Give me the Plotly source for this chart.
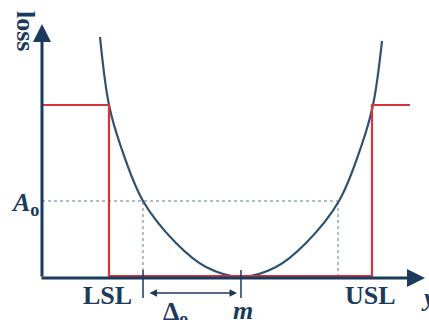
import plotly.graph_objects as go

# ---- data (x: position along the process-value axis, loss: loss value) ----
curve_x = [58, 67, 79, 101, 134, 164, 199, 234, 264, 297, 319, 331, 340]
curve_loss = [240, 172, 130, 76, 34, 10, 0, 10, 34, 76, 130, 172, 236]

step_x = [0, 67, 67, 330, 330, 368]
step_loss = [172, 172, 1, 1, 172, 172]

LSL = 67
USL = 330
m = 199
A0 = 76
tol_left = 101   # m - Δo
tol_right = 296  # m + Δo

NAVY = "#1b3a5c"
CURVE = "#2f5170"
RED = "#d8323c"
DOT = "#95a6b8"
FONT = "Liberation Serif"

fig = go.Figure()

# dotted guide lines
fig.add_trace(go.Scatter(x=[0, tol_right], y=[A0, A0], mode="lines",
                         line=dict(color=DOT, width=1.5, dash="dot"), hoverinfo="skip"))
for xv in [tol_left, tol_right]:
    fig.add_trace(go.Scatter(x=[xv, xv], y=[0, A0], mode="lines",
                             line=dict(color=DOT, width=1.5, dash="dot"), hoverinfo="skip"))

# loss curve
fig.add_trace(go.Scatter(x=curve_x, y=curve_loss, mode="lines", line_shape="spline",
                         line=dict(color=CURVE, width=2.2, smoothing=1.0), hoverinfo="skip"))

# axes as arrows
fig.add_annotation(x=0, y=253, ax=0, ay=-1, xref="x", yref="y", axref="x", ayref="y",
                   showarrow=True, arrowhead=2, arrowsize=1.2, arrowwidth=3, arrowcolor=NAVY, text="")
fig.add_annotation(x=383, y=-1, ax=-2, ay=-1, xref="x", yref="y", axref="x", ayref="y",
                   showarrow=True, arrowhead=2, arrowsize=1.2, arrowwidth=3, arrowcolor=NAVY, text="")

# step (loss by specification limits)
fig.add_trace(go.Scatter(x=step_x, y=step_loss, mode="lines",
                         line=dict(color=RED, width=2.2), hoverinfo="skip"))

# ticks
for xv in [tol_left, m]:
    fig.add_trace(go.Scatter(x=[xv, xv], y=[7, -21], mode="lines",
                             line=dict(color=NAVY, width=1.5), hoverinfo="skip"))

# double arrow Δo
fig.add_annotation(x=m - 4, y=-16, ax=tol_left + 5, ay=-16, xref="x", yref="y", axref="x", ayref="y",
                   showarrow=True, arrowhead=2, startarrowhead=2, arrowside="end+start",
                   arrowsize=1, arrowwidth=1.5, arrowcolor=NAVY, text="")

tf = dict(family=FONT, size=26, color=NAVY)
fig.add_annotation(x=LSL - 2, y=-18, text="<b>LSL</b>", showarrow=False, font=tf)
fig.add_annotation(x=USL - 2, y=-18, text="<b>USL</b>", showarrow=False, font=tf)
fig.add_annotation(x=m + 2, y=-33, text="<b><i>m</i></b>", showarrow=False, font=tf)
fig.add_annotation(x=133, y=-36, text="<b>Δ<sub>o</sub></b>", showarrow=False, font=tf)
fig.add_annotation(x=386, y=-20, text="<b><i>y</i></b>", showarrow=False, font=tf)
fig.add_annotation(x=-17, y=73, text="<b><i>A</i><sub>o</sub></b>", showarrow=False, font=tf)
fig.add_annotation(x=-16, y=246, text="<b>loss</b>", showarrow=False, font=tf, textangle=90)

fig.update_layout(
    width=429, height=320,
    margin=dict(l=0, r=0, t=0, b=0),
    paper_bgcolor="white", plot_bgcolor="white",
    showlegend=False,
    xaxis=dict(range=[-42, 387], visible=False, fixedrange=True),
    yaxis=dict(range=[-43, 277], visible=False, fixedrange=True),
)

fig.write_html("out.html", config={"displayModeBar": False},
               post_script="document.body.style.margin='0';")
